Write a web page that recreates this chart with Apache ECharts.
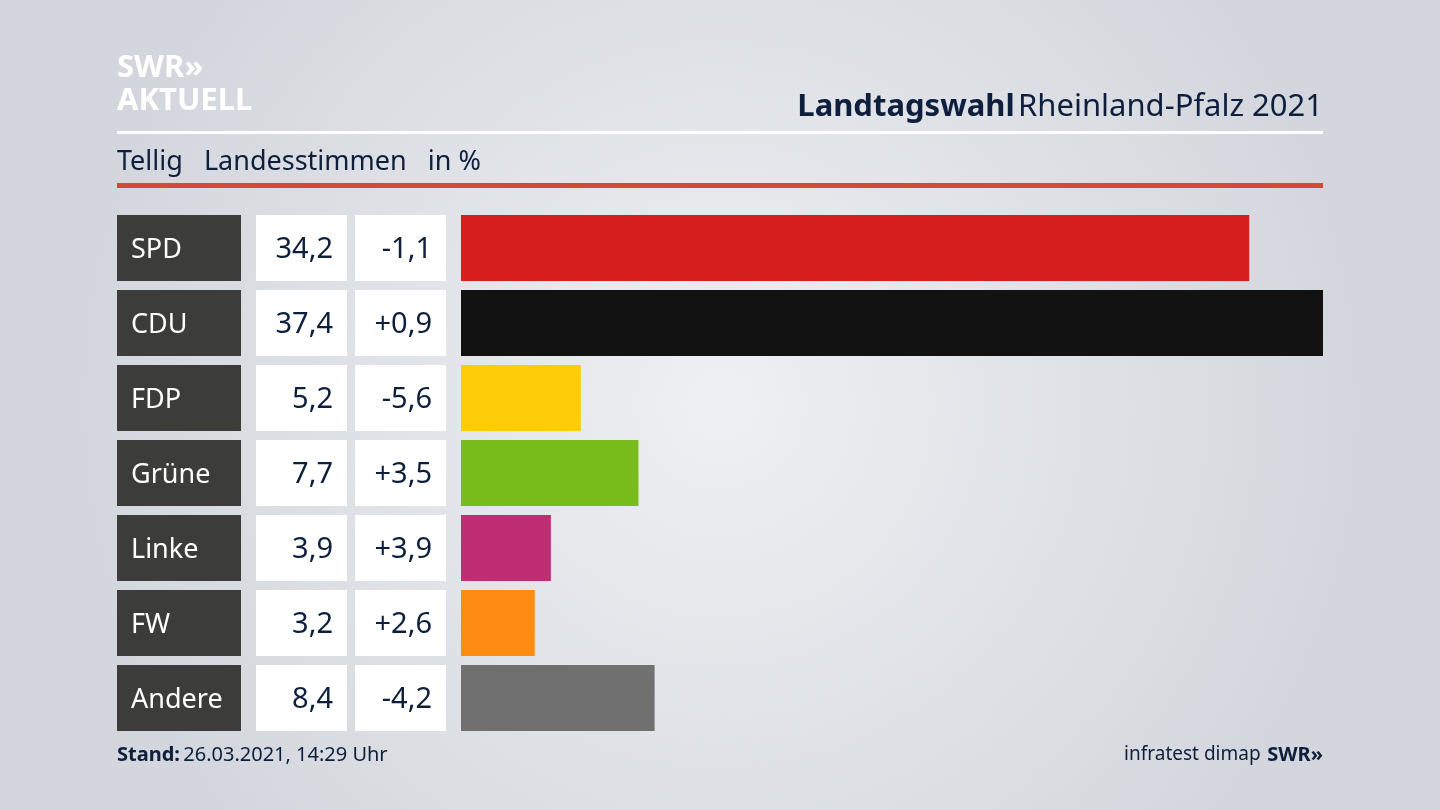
<!DOCTYPE html>
<html><head><meta charset="utf-8">
<script src="https://cdn.jsdelivr.net/npm/echarts@6/dist/echarts.min.js"></script>
<style>html,body{margin:0;padding:0}#c{width:1440px;height:810px}</style>
</head><body><div id="c"></div>
<script>
const parties = ['SPD','CDU','FDP','Grüne','Linke','FW','Andere'];
const shares = [34.2,37.4,5.2,7.7,3.9,3.2,8.4];
const changes = ['-1,1','+0,9','-5,6','+3,5','+3,9','+2,6','-4,2'];
const colors = ['#d71f20','#121212','#fecc08','#78bc1c','#bf2e73','#ff8c12','#707070'];

const font = '"Noto Sans", "Open Sans", sans-serif';
const navy = '#0d1f3c';
const gTop = 210.5, gH = 525;
function grid(left, width){ return {left, width, top:gTop, height:gH}; }
const fmt = v => v.toFixed(1).replace('.', ',');
const ones = parties.map(()=>1);

const grids = [grid(461,862), grid(117,124), grid(256,91), grid(355,91)];
const xAxes = [
  {gridIndex:0,type:'value',min:0,max:37.4,show:false},
  {gridIndex:1,type:'value',min:0,max:1,show:false},
  {gridIndex:2,type:'value',min:0,max:1,show:false},
  {gridIndex:3,type:'value',min:0,max:1,show:false}
];
const yAxes = [0,1,2,3].map(i=>({gridIndex:i,type:'category',data:parties,inverse:true,show:false}));
const base = {type:'bar',barWidth:66,silent:true,animation:false};
const chart = echarts.init(document.getElementById('c'));
chart.setOption({
  backgroundColor:{type:'radial',x:0.5,y:0.5,r:0.8,colorStops:[{offset:0,color:'#eef0f3'},{offset:1,color:'#d3d6dc'}]},
  grid:grids, xAxis:xAxes, yAxis:yAxes,
  series:[
    Object.assign({},base,{xAxisIndex:0,yAxisIndex:0,data:shares.map((v,i)=>({value:v,itemStyle:{color:colors[i]}}))}),
    Object.assign({},base,{xAxisIndex:1,yAxisIndex:1,data:ones,itemStyle:{color:'#3c3c3b'},
      label:{show:true,position:'insideLeft',offset:[9,2],formatter:p=>parties[p.dataIndex],color:'#fff',fontSize:27,fontFamily:font}}),
    Object.assign({},base,{xAxisIndex:2,yAxisIndex:2,data:ones,itemStyle:{color:'#fff'},
      label:{show:true,position:'insideRight',offset:[-9,2],formatter:p=>fmt(shares[p.dataIndex]),color:navy,fontSize:29,fontFamily:font}}),
    Object.assign({},base,{xAxisIndex:3,yAxisIndex:3,data:ones,itemStyle:{color:'#fff'},
      label:{show:true,position:'insideRight',offset:[-9,2],formatter:p=>changes[p.dataIndex],color:navy,fontSize:29,fontFamily:font}})
  ],
  graphic:[
    {type:'text',left:117,top:53,style:{text:'SWR»',fill:'#fff',font:'bold 31px '+font}},
    {type:'text',left:117,top:86,style:{text:'AKTUELL',fill:'#fff',font:'bold 31px '+font}},
    {type:'text',right:117,top:92,style:{rich:{b:{fontWeight:'bold',fontSize:31,fill:navy,fontFamily:font},r:{fontSize:31,fill:navy,fontFamily:font}},text:'{b|Landtagswahl} {r|Rheinland-Pfalz 2021}'}},
    {type:'rect',shape:{x:117,y:131,width:1206,height:3},style:{fill:'#fff'}},
    {type:'text',left:117,top:149,style:{text:'Tellig   Landesstimmen   in %',fill:navy,font:'27px '+font}},
    {type:'rect',shape:{x:117,y:183,width:1206,height:5},style:{fill:'#d24a38'}},
    {type:'text',left:117,top:745,style:{rich:{b:{fontWeight:'bold',fontSize:20,fill:navy,fontFamily:font},r:{fontSize:20,fill:navy,fontFamily:font}},text:'{b|Stand:} {r|26.03.2021, 14:29 Uhr}'}},
    {type:'text',right:117,top:745,style:{rich:{r:{fontSize:19,fill:navy,fontFamily:font},b:{fontWeight:'bold',fontSize:20,fill:navy,fontFamily:font}},text:'{r|infratest dimap}  {b|SWR»}'}}
  ]
});
</script></body></html>
